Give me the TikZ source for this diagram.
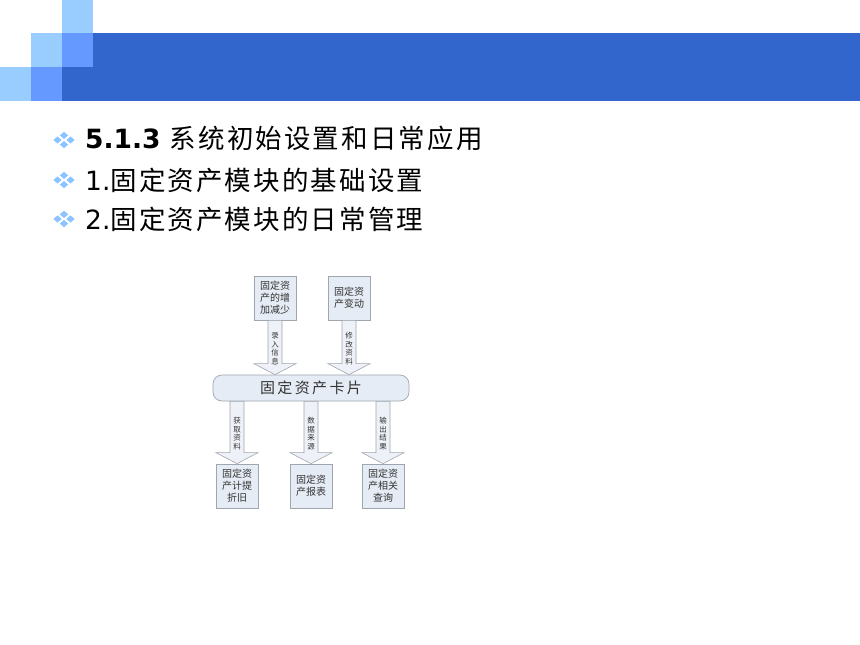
\documentclass[tikz,border=0pt]{standalone}
\usepackage{fontspec}
\setmainfont{DejaVu Sans}
\newfontfamily\cjk{Noto Sans CJK SC}
\newfontfamily\cjkwide[LetterSpace=8]{Noto Sans CJK SC}
\newfontfamily\cjkcard[LetterSpace=16]{Noto Sans CJK SC}
\usetikzlibrary{calc}
\definecolor{lightsq}{HTML}{99CCFF}
\definecolor{midsq}{HTML}{6699FF}
\definecolor{band}{HTML}{3366CC}
\definecolor{boxfill}{HTML}{E6ECF5}
\definecolor{boxline}{HTML}{A0A6AE}
\definecolor{arrfill}{HTML}{EEF2F8}
\definecolor{dtext}{HTML}{333333}
\definecolor{bul}{HTML}{8CC4FF}
\tikzset{
  infobox/.style={draw=boxline, fill=boxfill, line width=0.7pt, minimum width=42pt, minimum height=44pt, inner sep=0pt, align=center, font=\cjk\fontsize{10}{12}\selectfont, text=dtext},
  cardbox/.style={draw=boxline, fill=boxfill, line width=0.7pt, rounded corners=9pt, minimum width=196pt, minimum height=26pt, inner sep=0pt, font=\cjkcard\fontsize{15}{17}\selectfont, text=dtext},
  blockarr/.style={draw=boxline, fill=arrfill, line width=0.6pt},
  arrlabel/.style={inner sep=0pt, align=center, font=\cjk\fontsize{7.5}{8.6}\selectfont, text=dtext},
  bline/.style={anchor=west, inner sep=0pt, text=black}
}
\newcommand{\bulletmark}[2]{%
  \foreach \dx/\dy in {-6.5/0,6.5/0,0/-4.6,0/4.6}{
    \fill[bul] ($(#1,#2)+(\dx,\dy)$) +(-4.2,0) -- +(0,-3.6) -- +(4.2,0) -- +(0,3.6) -- cycle;
  }}
\newcommand{\blockarrow}[4]{% from, to, label-node name, label
  \path let \p1=(#1), \p2=(#2) in
    coordinate (#3s) at (\x1,\y1) coordinate (#3e) at (\x1,\y2);
  \draw[blockarr] let \p1=(#3s), \p2=(#3e) in
    (\x1-7pt,\y1) -- (\x1+7pt,\y1) -- (\x1+7pt,\y2+11pt) -- (\x1+21pt,\y2+11pt)
    -- (\x1,\y2) -- (\x1-21pt,\y2+11pt) -- (\x1-7pt,\y2+11pt) -- cycle;
  \node[arrlabel] (#3) at ($(#3s)!0.52!(#3e)$) {#4};
}
\begin{document}
\begin{tikzpicture}[x=1pt,y=-1pt]
\useasboundingbox (0,0) rectangle (860,645);
\fill[white] (0,0) rectangle (860,645);
% header
\fill[band] (93,33) rectangle (860,101);
\fill[band] (62,67) rectangle (93,101);
\fill[lightsq] (62,0) rectangle (93,33);
\fill[lightsq] (31,33) rectangle (62,67);
\fill[midsq] (62,33) rectangle (93,67);
\fill[lightsq] (0,67) rectangle (31,101);
\fill[midsq] (31,67) rectangle (62,101);
% bullets
\bulletmark{64}{140}
\bulletmark{64}{180}
\bulletmark{64}{219}
\node[bline] (l1) at (85,138) {\fontsize{26.5}{30}\selectfont\bfseries 5.1.3 {\cjkwide\mdseries 系统初始设置和日常应用}};
\node[bline] (l2) at (85,180) {\fontsize{26.5}{30}\selectfont 1.{\cjkwide 固定资产模块的基础设置}};
\node[bline] (l3) at (85,219) {\fontsize{26.5}{30}\selectfont 2.{\cjkwide 固定资产模块的日常管理}};
% diagram
\node[infobox] (t1) at (275,298) {固定资\\产的增\\加减少};
\node[infobox] (t2) at (349,298) {固定资\\产变动};
\node[cardbox] (card) at (311,388) {固定资产卡片};
\node[infobox] (b1) at (237,486) {固定资\\产计提\\折旧};
\node[infobox] (b2) at (311,486) {固定资\\产报表};
\node[infobox] (b3) at (383,486) {固定资\\产相关\\查询};
\blockarrow{t1.south}{card.north -| t1.south}{a1}{录\\入\\信\\息}
\blockarrow{t2.south}{card.north -| t2.south}{a2}{修\\改\\资\\料}
\blockarrow{card.south -| b1.north}{b1.north}{a3}{获\\取\\资\\料}
\blockarrow{card.south -| b2.north}{b2.north}{a4}{数\\据\\来\\源}
\blockarrow{card.south -| b3.north}{b3.north}{a5}{输\\出\\结\\果}
\end{tikzpicture}
\end{document}
